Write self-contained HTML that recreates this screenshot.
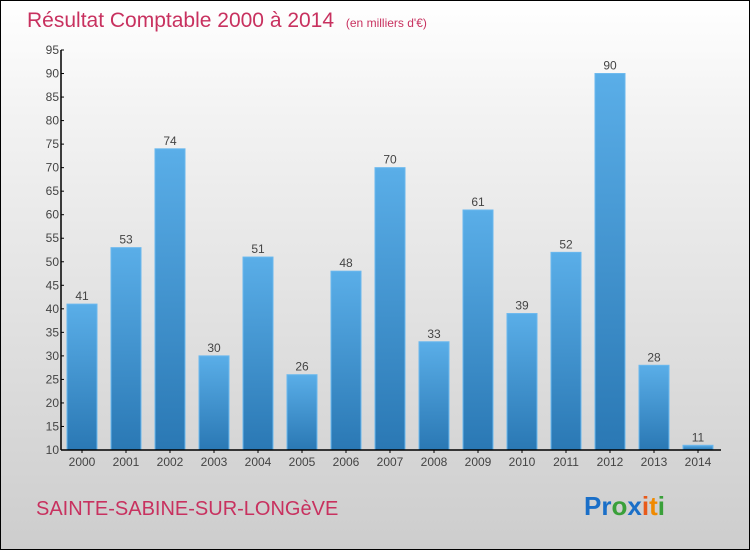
<!DOCTYPE html>
<html><head><meta charset="utf-8"><style>
body{margin:0}
#c{width:750px;height:550px;position:relative;box-sizing:border-box;border:1px solid #000;background:linear-gradient(#fff,#f3f3f3 20%,#cdcdcd);font-family:"Liberation Sans",sans-serif;overflow:hidden}
</style></head><body>
<div id="c">
<svg id="s" width="750" height="550" style="position:absolute;left:-1px;top:-1px">
<defs><linearGradient id="g" x1="0" y1="0" x2="0" y2="1"><stop offset="0" stop-color="#5aaee8"/><stop offset="1" stop-color="#2a78b4"/></linearGradient></defs>
<text x="27" y="27" font-size="21" fill="#c8315f">Résultat Comptable 2000 à 2014 <tspan font-size="12" dx="6">(en milliers d'€)</tspan></text>
<text x="36" y="515" font-size="20" fill="#c8315f">SAINTE-SABINE-SUR-LONGèVE</text>
<text x="584" y="515" font-size="26" font-weight="bold"><tspan fill="#1a6fc8">Pr</tspan><tspan fill="#3aa03a">o</tspan><tspan fill="#1a6fc8">x</tspan><tspan fill="#e85a1a">i</tspan><tspan fill="#f08a00">t</tspan><tspan fill="#3aa03a">i</tspan></text>
</svg>
</div>
<script>
const categories=["2000","2001","2002","2003","2004","2005","2006","2007","2008","2009","2010","2011","2012","2013","2014"];
const values=[41,53,74,30,51,26,48,70,33,61,39,52,90,28,11];
const yTicks=[10,15,20,25,30,35,40,45,50,55,60,65,70,75,80,85,90,95];
const s=document.getElementById('s'),NS='http://www.w3.org/2000/svg';
const x0=61,step=44,yMin=10,yMax=95,yTop=50,yBot=450;
const y=v=>yBot-(v-yMin)*(yBot-yTop)/(yMax-yMin);
const xb=i=>x0+step*i+6;
function mk(t,a){const e=document.createElementNS(NS,t);for(const k in a)e.setAttribute(k,a[k]);s.appendChild(e);return e;}
values.forEach((v,i)=>{
 const r=mk('rect',{x:xb(i),y:y(v),width:30,height:yBot-y(v),fill:'url(#g)',stroke:'#6ab8ee','stroke-width':1});
 
 
 const t=mk('text',{x:xb(i)+15,y:y(v)-4,'text-anchor':'middle','font-size':12,fill:'#444'});
 t.textContent=v;
 
 
 const c=mk('text',{x:xb(i)+15,y:466,'text-anchor':'middle','font-size':12,fill:'#444'});
 c.textContent=categories[i];
 
 
 const tk=mk('line',{x1:xb(i)+15,x2:xb(i)+15,y1:yBot,y2:yBot+3,stroke:'#000'});
 
 
});
yTicks.forEach(v=>{
 const l=mk('line',{x1:x0,x2:x0+3,y1:y(v),y2:y(v),stroke:'#000'});
 
 
 const t=mk('text',{x:x0-2,y:y(v)+4,'text-anchor':'end','font-size':12,fill:'#444'});
 t.textContent=v;
 
 
});
const ya=mk('line',{x1:x0,x2:x0,y1:yTop,y2:yBot,stroke:'#000','stroke-width':1.5});


const xa=mk('line',{x1:x0,x2:x0+step*categories.length,y1:yBot,y2:yBot,stroke:'#000','stroke-width':1.5});


</script>
</body></html>
